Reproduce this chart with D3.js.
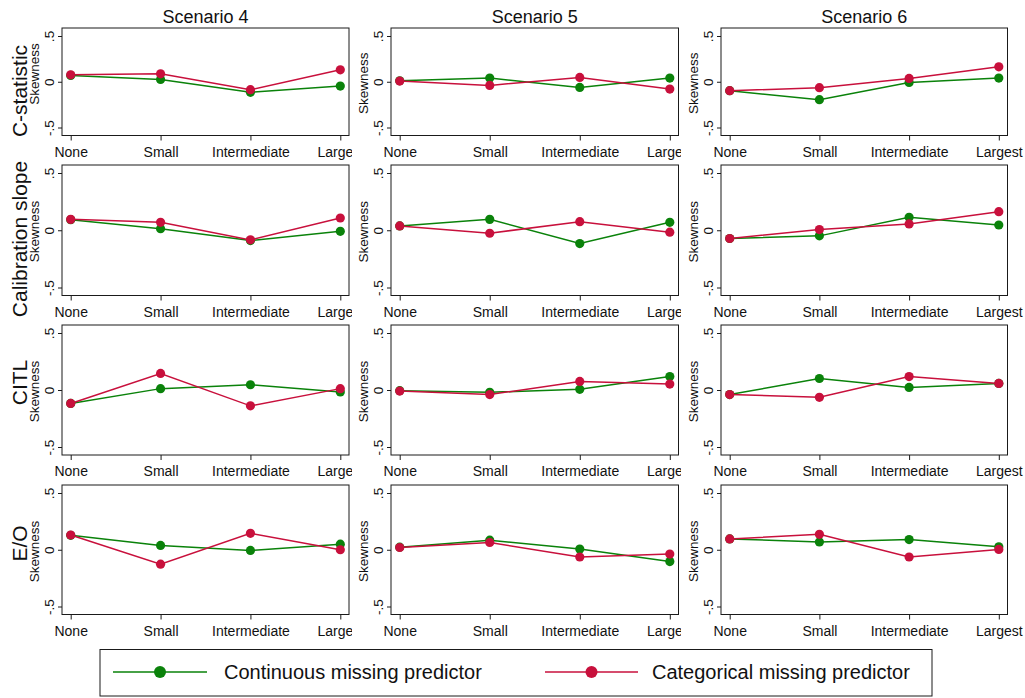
<!DOCTYPE html>
<html>
<head>
<meta charset="utf-8">
<script src="https://cdn.jsdelivr.net/npm/d3@7"></script>
<style>
  html, body { margin: 0; padding: 0; background: #fff; }
  svg { display: block; font-family: "Liberation Sans", Arial, sans-serif; }
</style>
</head>
<body>
<svg id="chart" width="1025" height="698"></svg>
<script>
// Categories on the x axis, panel titles and row measures
const categories = ["None", "Small", "Intermediate", "Largest"];
const scenarios = ["Scenario 4", "Scenario 5", "Scenario 6"];
const measures = ["C-statistic", "Calibration slope", "CITL", "E/O"];
const seriesNames = ["Continuous missing predictor", "Categorical missing predictor"];
const yTicks = [-0.5, 0, 0.5];
const yTickLabels = ["-.5", "0", ".5"];

// Skewness per scenario (one row per scenario, one value per category)
const cstatContinuous = [
  [0.069, 0.025, -0.116, -0.047],
  [0.011, 0.040, -0.062, 0.040],
  [-0.098, -0.196, -0.007, 0.040]
];
const cstatCategorical = [
  [0.076, 0.087, -0.087, 0.130],
  [0.007, -0.040, 0.047, -0.080],
  [-0.098, -0.065, 0.036, 0.163]
];
const slopeContinuous = [
  [0.092, 0.014, -0.090, -0.009],
  [0.038, 0.095, -0.116, 0.069],
  [-0.072, -0.049, 0.113, 0.046]
];
const slopeCategorical = [
  [0.095, 0.069, -0.084, 0.107],
  [0.038, -0.026, 0.075, -0.017],
  [-0.072, 0.006, 0.055, 0.162]
];
const citlContinuous = [
  [-0.118, 0.012, 0.046, -0.017],
  [-0.006, -0.020, 0.006, 0.118],
  [-0.040, 0.101, 0.023, 0.058]
];
const citlCategorical = [
  [-0.118, 0.145, -0.139, 0.012],
  [-0.009, -0.040, 0.075, 0.052],
  [-0.040, -0.064, 0.118, 0.058]
];
const eoContinuous = [
  [0.127, 0.038, -0.006, 0.049],
  [0.023, 0.084, 0.006, -0.104],
  [0.095, 0.069, 0.090, 0.026]
];
const eoCategorical = [
  [0.130, -0.127, 0.145, 0.000],
  [0.020, 0.064, -0.064, -0.038],
  [0.095, 0.136, -0.064, 0.003]
];

const continuousRows = [cstatContinuous, slopeContinuous, citlContinuous, eoContinuous];
const categoricalRows = [cstatCategorical, slopeCategorical, citlCategorical, eoCategorical];

// Layout of the 4 x 3 grid of plot boxes
const colLeft = [62, 391, 721];
const colRight = [349, 678.5, 1007.5];
const rowTop = [28, 165, 325, 485];
const rowBottom = [135.5, 295.5, 455, 614.5];
const labelClipRight = [352, 681, 1025];
const rowLabelCenter = [91, 239, 382.5, 543.5];
const firstColSkewCenter = [74, 231.5, 391.5, 551.5];

const green = "#0a820a";
const red = "#c8103c";
const colors = [green, red];
const fontFamily = '"Liberation Sans", Arial, sans-serif';

const svg = d3.select("#chart");

const defs = svg.append("defs");
colLeft.forEach((l, c) => {
  defs.append("clipPath").attr("id", "clipcol" + c)
    .attr("clipPathUnits", "userSpaceOnUse")
    .append("rect")
    .attr("x", l - 60).attr("y", 0)
    .attr("width", labelClipRight[c] - (l - 60)).attr("height", 698);
});

const line = (x, y) => d3.line().x((d, i) => x(categories[i])).y(d => y(d));

for (let r = 0; r < measures.length; r++) {
  for (let c = 0; c < scenarios.length; c++) {
    const left = colLeft[c], right = colRight[c];
    const top = rowTop[r], bottom = rowBottom[r];

    const x = d3.scalePoint().domain(categories).range([left + 8.7, right - 8.7]);
    const y = d3.scaleLinear().domain([-0.5, 0.5]).range([bottom - 8, top + 8]);

    const g = svg.append("g");

    // Plot box
    g.append("rect")
      .attr("x", left).attr("y", top)
      .attr("width", right - left).attr("height", bottom - top)
      .attr("fill", "#fff").attr("stroke", "#1a1a1a").attr("stroke-width", 1);

    // X axis (labels clipped at the panel edge)
    const xg = svg.append("g").attr("clip-path", `url(#clipcol${c})`)
      .append("g").attr("transform", `translate(0,${bottom})`)
      .call(d3.axisBottom(x).tickSize(5).tickSizeOuter(0).tickPadding(6.5));
    xg.select(".domain").remove();
    xg.selectAll(".tick line").attr("stroke", "#1a1a1a");
    xg.selectAll(".tick text")
      .attr("font-size", 14).attr("font-family", fontFamily).attr("fill", "#111");

    // Y axis with rotated tick labels
    const yg = g.append("g").attr("transform", `translate(${left},0)`)
      .call(d3.axisLeft(y).tickValues(yTicks).tickSize(4)
        .tickFormat((d, i) => yTickLabels[i]));
    yg.select(".domain").remove();
    yg.selectAll(".tick line").attr("stroke", "#1a1a1a");
    yg.selectAll(".tick text")
      .attr("x", null).attr("dy", null)
      .attr("text-anchor", "middle")
      .attr("transform", "translate(-8,0) rotate(-90)")
      .attr("font-size", 13.5).attr("font-family", fontFamily).attr("fill", "#111");

    // Axis title
    const skewY = c === 0 ? firstColSkewCenter[r] : (top + bottom) / 2 + 1.5;
    g.append("text")
      .attr("transform", `translate(${left - 23},${skewY}) rotate(-90)`)
      .attr("text-anchor", "middle")
      .attr("font-size", 13.5).attr("fill", "#111")
      .text("Skewness");

    // Series: continuous first, categorical drawn on top
    [continuousRows[r][c], categoricalRows[r][c]].forEach((vals, s) => {
      g.append("path")
        .datum(vals)
        .attr("d", line(x, y))
        .attr("fill", "none")
        .attr("stroke", colors[s])
        .attr("stroke-width", 1.5);
      g.selectAll(null)
        .data(vals)
        .enter().append("circle")
        .attr("cx", (d, i) => x(categories[i]))
        .attr("cy", d => y(d))
        .attr("r", 4.6)
        .attr("fill", colors[s]);
    });

    // Column titles on the first row
    if (r === 0) {
      svg.append("text")
        .attr("x", (left + right) / 2).attr("y", 23)
        .attr("text-anchor", "middle")
        .attr("font-size", 18).attr("fill", "#111")
        .text(scenarios[c]);
    }
  }

  // Row label for the measure
  svg.append("text")
    .attr("transform", `translate(27,${rowLabelCenter[r]}) rotate(-90)`)
    .attr("text-anchor", "middle")
    .attr("font-size", 21).attr("fill", "#111")
    .text(measures[r]);
}

// Legend
const legend = svg.append("g");
legend.append("rect")
  .attr("x", 100).attr("y", 649.5).attr("width", 832).attr("height", 46.5)
  .attr("fill", "#fff").attr("stroke", "#1a1a1a").attr("stroke-width", 1);
const legendItems = [
  { x0: 113, x1: 207, tx: 224 },
  { x0: 545, x1: 638, tx: 652 }
];
legendItems.forEach((it, s) => {
  legend.append("line")
    .attr("x1", it.x0).attr("x2", it.x1).attr("y1", 672).attr("y2", 672)
    .attr("stroke", colors[s]).attr("stroke-width", 1.6);
  legend.append("circle")
    .attr("cx", (it.x0 + it.x1) / 2).attr("cy", 672).attr("r", 6)
    .attr("fill", colors[s]);
  legend.append("text")
    .attr("x", it.tx).attr("y", 679)
    .attr("font-size", 20).attr("fill", "#111")
    .text(seriesNames[s]);
});
</script>
</body>
</html>
